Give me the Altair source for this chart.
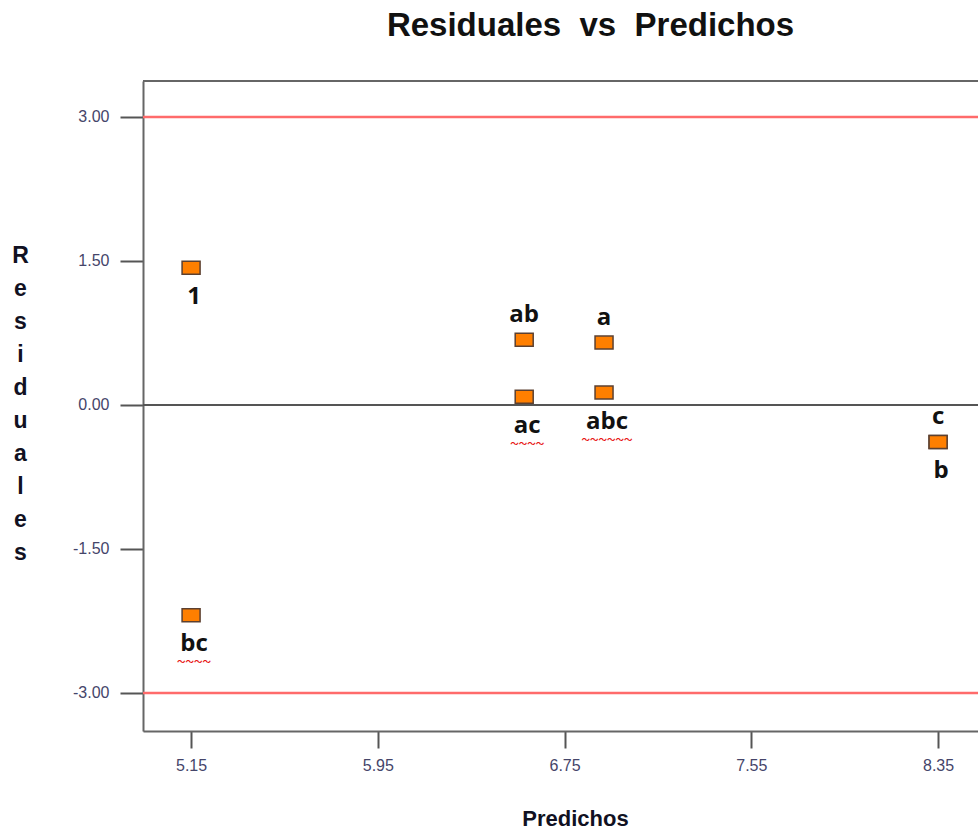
import altair as alt
import pandas as pd

# Residual diagnostics of the 2^3 factorial runs
predichos = [5.15, 5.15, 6.577, 6.577, 6.919, 6.919, 8.35, 8.35]
residuales = [1.43, -2.19, 0.68, 0.085, 0.65, 0.13, -0.385, -0.385]
corridas = ["1", "bc", "ab", "ac", "a", "abc", "c", "b"]
posicion = ["abajo", "abajo", "arriba", "abajo", "arriba", "abajo", "arriba", "abajo"]
subrayado = [False, True, False, True, False, True, False, False]

x_ticks = [5.15, 5.95, 6.75, 7.55, 8.35]
y_ticks = [-3.0, -1.5, 0.0, 1.5, 3.0]
limites = [-3.0, 3.0]
x_domain = [4.944, 8.521]
y_domain = [-3.396, 3.375]

df = pd.DataFrame({
    "pred": predichos,
    "res": residuales,
    "corrida": corridas,
    "pos": posicion,
    "sub": subrayado,
})
df_lim = pd.DataFrame({"lim": limites})
df_cero = pd.DataFrame({"cero": [0.0]})

xs = alt.Scale(domain=x_domain, nice=False, zero=False)
ys = alt.Scale(domain=y_domain, nice=False, zero=False)

label_font = "Liberation Sans Narrow, Liberation Sans, Arial"
title_font = "Liberation Sans, Arial"
text_font = "Open Sans, Lato, sans-serif"
# plain hyphen for negative tick labels
hyphen = "replace(datum.label, '\u2212', '-')"

x_axis = alt.Axis(
    values=x_ticks, format=".2f", grid=False, labelExpr=hyphen,
    domainColor="#666666", domainWidth=2,
    tickColor="#555555", tickWidth=2, tickSize=17,
    labelFont=label_font, labelFontSize=16, labelColor="#45456a", labelPadding=9,
    title="Predichos", titleFont=title_font, titleFontSize=22, titleFontWeight="bold",
    titleColor="#111122", titleX=432, titleY=94, titleAlign="center",
    titleBaseline="alphabetic",
)
y_axis = alt.Axis(
    values=y_ticks, format=".2f", grid=False, labelExpr=hyphen,
    domainColor="#666666", domainWidth=2,
    tickColor="#555555", tickWidth=2, tickSize=23,
    labelFont=label_font, labelFontSize=16, labelColor="#45456a", labelPadding=11,
    title=list("Residuales"), titleFont=title_font, titleFontSize=23,
    titleFontWeight="bold", titleColor="#111122", titleAngle=0,
    titleLineHeight=33, titleX=-123, titleY=181, titleAlign="center",
    titleBaseline="alphabetic",
)

X = alt.X("pred:Q", scale=xs, axis=x_axis)
Y = alt.Y("res:Q", scale=ys, axis=y_axis)

# reference lines at +/- 3
limite = alt.Chart(df_lim).mark_rule(color="#FF6B6B", strokeWidth=2.5).encode(
    y=alt.Y("lim:Q", scale=ys, axis=y_axis)
)
# zero line
cero = alt.Chart(df_cero).mark_rule(color="#555555", strokeWidth=2).encode(
    y=alt.Y("cero:Q", scale=ys, axis=y_axis)
)
# top frame line
borde = alt.Chart(df_cero).mark_rule(color="#666666", strokeWidth=2).encode(
    y=alt.value(0)
)

puntos = alt.Chart(df).mark_point(
    shape="M-1,-0.72H1V0.72H-1Z", size=324, filled=True,
    fill="#FF7F00", stroke="#5c4030", strokeWidth=1.5, opacity=1,
).encode(x=X, y=Y)

arriba = alt.Chart(df).transform_filter("datum.pos == 'arriba'").mark_text(
    font=text_font, fontSize=24, fontWeight="bold", color="#111111",
    baseline="alphabetic", dy=-18,
).encode(x=X, y=Y, text="corrida:N")

abajo = alt.Chart(df).transform_filter("datum.pos == 'abajo'").mark_text(
    font=text_font, fontSize=24, fontWeight="bold", color="#111111",
    baseline="alphabetic", dy=36, dx=3,
).encode(x=X, y=Y, text="corrida:N")

# red wavy spell-check underline
ondas = alt.Chart(df).transform_filter("datum.sub").transform_calculate(
    onda="pad('', length(datum.corrida) * 2, '\u301c')"
).mark_text(
    font="Noto Sans CJK SC", fontSize=8.5, fontWeight="bold", color="#E81818",
    baseline="middle", dy=46, dx=3,
).encode(x=X, y=Y, text="onda:N")

chart = alt.layer(limite, cero, borde, puntos, arriba, abajo, ondas).properties(
    width=835, height=650,
    autosize=alt.AutoSizeParams(type="none"),
    padding={"left": 143, "top": 81, "right": 0, "bottom": 98},
    title=alt.TitleParams(
        text="Residuales\u00a0 vs\u00a0 Predichos", font=title_font, fontSize=33,
        fontWeight="bold", color="#111111", anchor="middle", dx=30,
        baseline="alphabetic", offset=11,
    ),
).configure_view(stroke=None).configure(background="white")

chart.save("out.html", embed_options={"renderer": "svg", "actions": False})
